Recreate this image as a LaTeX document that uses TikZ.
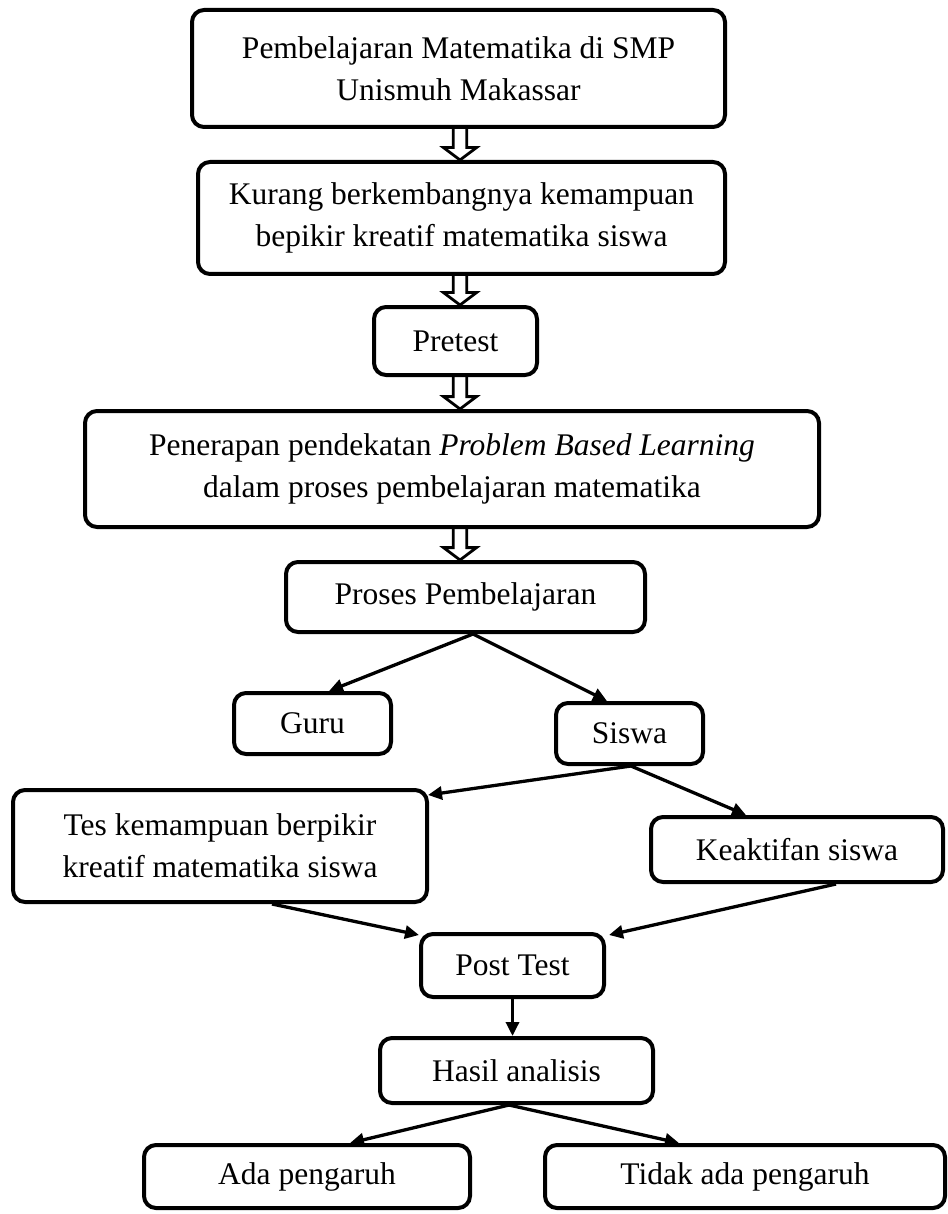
\documentclass[tikz,border=0pt]{standalone}
\usepackage{fontspec}
\setmainfont{Liberation Serif}
\usetikzlibrary{positioning}
\usetikzlibrary{calc}
\usetikzlibrary{arrows.meta}
\tikzset{
	every node/.style = {font=\fontsize{31.5}{42}\selectfont},
	kotak/.style = {draw, line width=4pt, rounded corners=12pt, align=center, inner sep=0pt},
	panah/.style = {-{Triangle[length=14pt,width=13pt]}, line width=3.3pt},
	ganda/.style = {line width=2.8pt, line join=miter}
}
\newcommand\panahganda[2]{%
	\draw[ganda] ($(#1.south -| sumbu)+(-6.7,0)$) -- ($(#2.north -| sumbu)+(-6.7,12.4)$)
		-- ++(-9.8,0) -- (#2.north -| sumbu) -- ++(16.5,12.4) -- ++(-9.8,0)
		-- ($(#1.south -| sumbu)+(6.7,0)$);}

\begin{document}
\begin{tikzpicture}[x=1pt, y=1pt]
		\useasboundingbox (0,0) rectangle (947,-1214);
		\coordinate (sumbu) at (460,0);
		% atas
		\node[kotak, minimum width=533pt, minimum height=117pt] (pbm) at (458.5,-68.5) {Pembelajaran Matematika di SMP\\Unismuh Makassar};
		\node[kotak, minimum width=527pt, minimum height=112pt] (kurang) at (461.5,-218) {Kurang berkembangnya kemampuan\\bepikir kreatif matematika siswa};
		\node[kotak, minimum width=163pt, minimum height=68pt] (pretest) at (455.5,-341) {Pretest};
		\node[kotak, minimum width=734pt, minimum height=116pt] (pbl) at (452,-469) {Penerapan pendekatan \textit{Problem Based Learning}\\dalam proses pembelajaran matematika};
		\node[kotak, minimum width=359pt, minimum height=70pt] (proses) at (465.5,-597) {Proses Pembelajaran};
		\foreach \a/\b in {pbm/kurang, kurang/pretest, pretest/pbl, pbl/proses}
			\panahganda{\a}{\b};
		% tengah
		\node[kotak, minimum width=157pt, minimum height=61pt] (guru) at (312.5,-723.5) {Guru};
		\node[kotak, minimum width=147pt, minimum height=61pt] (siswa) at (629.5,-733.5) {Siswa};
		\node[kotak, minimum width=414pt, minimum height=112pt] (tes) at (220,-846) {Tes kemampuan berpikir\\kreatif matematika siswa};
		\node[kotak, minimum width=292pt, minimum height=65pt] (keak) at (797,-849.5) {Keaktifan siswa};
		\draw[panah] ($(proses.south)+(7.5,0)$) -- ($(guru.north)+(16.5,0)$);
		\draw[panah] ($(proses.south)+(7.5,0)$) -- ($(siswa.north)+(-22.5,0)$);
		\draw[panah] ($(siswa.south)+(1.5,0)$) -- ($(tes.north east)+(-1,-7)$);
		\draw[panah] ($(siswa.south)+(1.5,0)$) -- ($(keak.north)+(-51,0)$);
		% bawah
		\node[kotak, minimum width=183pt, minimum height=63pt] (post) at (512.5,-965.5) {Post Test};
		\node[kotak, minimum width=273pt, minimum height=65pt] (hasil) at (516.5,-1070.5) {Hasil analisis};
		\node[kotak, minimum width=326pt, minimum height=63pt] (ada) at (307,-1176.5) {Ada pengaruh};
		\node[kotak, minimum width=400pt, minimum height=63pt] (tidak) at (745,-1176.5) {Tidak ada pengaruh};
		\draw[panah] ($(tes.south)+(52,0)$) -- ($(post.north west)+(0,-3)$);
		\draw[panah] ($(keak.south)+(39,0)$) -- ($(post.north east)+(3,-3)$);
		\draw[panah] (post.south) -- (post.south |- hasil.north);
		\draw[panah] ($(hasil.south)+(-7.5,0)$) -- ($(ada.north)+(43,0)$);
		\draw[panah] ($(hasil.south)+(-7.5,0)$) -- ($(tidak.north)+(-66,0)$);
	\end{tikzpicture}
\end{document}
